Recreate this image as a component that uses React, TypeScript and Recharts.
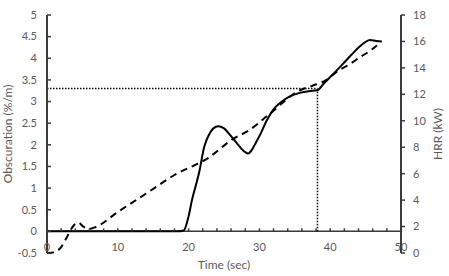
import { LineChart, Line, XAxis, YAxis, ReferenceLine } from 'recharts';

// obscuration, left axis (%/m)
const obsTime = [0, 5, 10, 15, 18.5, 19.3, 20, 20.5, 21, 21.5, 22.2, 22.9, 23.5, 24.2, 25, 26, 27, 28, 28.4, 29, 29.5, 30, 31, 32, 33, 34.3, 35.7, 37, 38.2, 39, 40.4, 41.8, 43, 44.2, 45, 45.6, 46.5, 47.3];
const obsValue = [0, 0, 0, 0, 0, 0.02, 0.35, 0.74, 1.05, 1.37, 1.95, 2.24, 2.38, 2.43, 2.38, 2.2, 2.0, 1.83, 1.8, 1.9, 2.05, 2.2, 2.55, 2.82, 2.98, 3.12, 3.2, 3.24, 3.26, 3.4, 3.63, 3.87, 4.08, 4.28, 4.38, 4.42, 4.4, 4.39];

// heat release rate, right axis (kW)
const hrrTime = [0, 1, 2, 2.8, 3.8, 4.4, 5.2, 5.9, 6.9, 10, 14.3, 18, 22.8, 26.2, 28.6, 31.4, 35.7, 37.5, 39.5, 40.9, 42.5, 44.2, 45.9, 46.6];
const hrrValue = [0, 0.05, 0.45, 1.2, 2.1, 2.3, 1.97, 1.82, 1.97, 3.1, 4.6, 5.9, 7.2, 8.6, 9.3, 10.5, 12.3, 12.65, 13.1, 13.7, 14.2, 14.8, 15.4, 15.7];

const xTicks = [0, 2, 4, 6, 8, 10, 12, 14, 16, 18, 20, 22, 24, 26, 28, 30, 32, 34, 36, 38, 40, 42, 44, 46, 48, 50];
const xLabels = [0, 10, 20, 30, 40, 50];
const obsTicks = [-0.5, 0, 0.5, 1, 1.5, 2, 2.5, 3, 3.5, 4, 4.5, 5];
const hrrTicks = [0, 2, 4, 6, 8, 10, 12, 14, 16, 18];

// marked reading: obscuration level and time it is reached
const markObs = 3.3;
const markTime = 38.2;

const obsData = obsTime.map((t, i) => ({ t, obs: obsValue[i] }));
const hrrData = hrrTime.map((t, i) => ({ t, hrr: hrrValue[i] }));

const W = 449;
const H = 276;
const TOP = 15;
const X_AXIS_H = 23;
const PLOT_H = H - TOP - X_AXIS_H;
const OBS_MIN = -0.5;
const OBS_MAX = 5;
// distance from plot bottom up to the obscuration zero line
const ZERO_OFF = (PLOT_H * (0 - OBS_MIN)) / (OBS_MAX - OBS_MIN);

const AXIS = '#3a3a3a';
const TEXT = '#595959';
const FONT = 'Lato, "Open Sans", sans-serif';

const LeftTick = ({ x, y, payload }: any) => (
    <g>
        <line x1={x} x2={x + 4} y1={y} y2={y} stroke={AXIS} strokeWidth={1.5} />
        <text x={x - 10} y={y} dy="0.35em" textAnchor="end" fill={TEXT} fontSize={11} fontFamily={FONT}>
            {payload.value}
        </text>
    </g>
);

const RightTick = ({ x, y, payload }: any) => (
    <g>
        <line x1={x} x2={x + 4} y1={y} y2={y} stroke={AXIS} strokeWidth={1.5} />
        <text x={x + 12} y={y} dy="0.35em" textAnchor="start" fill={TEXT} fontSize={11} fontFamily={FONT}>
            {payload.value}
        </text>
    </g>
);

// x ticks sit on the zero line of the left axis, pointing up
const TimeTick = ({ x, y, payload }: any) => {
    const zy = y - ZERO_OFF;
    return (
        <g>
            <line x1={x} x2={x} y1={zy - 3} y2={zy} stroke={AXIS} strokeWidth={1.5} />
            {xLabels.includes(payload.value) && (
                <text x={x} y={zy + 20} textAnchor="middle" fill={TEXT} fontSize={11} fontFamily={FONT}>
                    {payload.value}
                </text>
            )}
        </g>
    );
};

const SideTitle = ({ viewBox, text, cx }: any) => {
    const cy = (viewBox?.y ?? TOP) + (viewBox?.height ?? PLOT_H) / 2;
    return (
        <text
            x={cx}
            y={cy}
            transform={`rotate(-90 ${cx} ${cy})`}
            textAnchor="middle"
            dominantBaseline="central"
            fill={TEXT}
            fontSize={12}
            fontFamily={FONT}
        >
            {text}
        </text>
    );
};

const BottomTitle = ({ viewBox }: any) => (
    <text
        x={viewBox.x + viewBox.width / 2}
        y={viewBox.y + 16}
        textAnchor="middle"
        fill={TEXT}
        fontSize={12}
        fontFamily={FONT}
    >
        Time (sec)
    </text>
);

export default function App() {
    return (
        <div style={{ position: 'absolute', left: 0, top: 0, background: '#fff' }}>
            <LineChart width={W} height={H} margin={{ top: TOP, right: 0, bottom: 0, left: 0 }}>
                <XAxis
                    type="number"
                    dataKey="t"
                    domain={[0, 50]}
                    ticks={xTicks}
                    interval={0}
                    height={X_AXIS_H}
                    axisLine={false}
                    tickLine={false}
                    tickSize={0}
                    tickMargin={0}
                    tick={<TimeTick />}
                    label={<BottomTitle />}
                />
                <YAxis
                    yAxisId="left"
                    type="number"
                    domain={[OBS_MIN, OBS_MAX]}
                    ticks={obsTicks}
                    interval={0}
                    width={47}
                    axisLine={{ stroke: AXIS, strokeWidth: 2 }}
                    tickLine={false}
                    tickSize={0}
                    tickMargin={0}
                    tick={<LeftTick />}
                    label={<SideTitle text="Obscuration (%/m)" cx={7} />}
                />
                <YAxis
                    yAxisId="right"
                    orientation="right"
                    type="number"
                    domain={[0, 18]}
                    ticks={hrrTicks}
                    interval={0}
                    width={48}
                    axisLine={{ stroke: AXIS, strokeWidth: 2 }}
                    tickLine={false}
                    tickSize={0}
                    tickMargin={0}
                    tick={<RightTick />}
                    label={<SideTitle text="HRR (kW)" cx={437} />}
                />
                <ReferenceLine yAxisId="left" y={0} stroke={AXIS} strokeWidth={1.5} />
                <ReferenceLine
                    yAxisId="left"
                    segment={[{ x: 0, y: markObs }, { x: markTime, y: markObs }]}
                    stroke="#000"
                    strokeWidth={1.5}
                    strokeDasharray="1.5 1.5"
                />
                <ReferenceLine
                    yAxisId="left"
                    segment={[{ x: markTime, y: 0 }, { x: markTime, y: markObs }]}
                    stroke="#000"
                    strokeWidth={1.5}
                    strokeDasharray="1.5 1.5"
                />
                <Line
                    yAxisId="right"
                    data={hrrData}
                    dataKey="hrr"
                    type="monotone"
                    stroke="#000"
                    strokeWidth={2}
                    strokeDasharray="7 5"
                    dot={false}
                    isAnimationActive={false}
                />
                <Line
                    yAxisId="left"
                    data={obsData}
                    dataKey="obs"
                    type="monotone"
                    stroke="#000"
                    strokeWidth={2}
                    dot={false}
                    isAnimationActive={false}
                />
            </LineChart>
        </div>
    );
}
